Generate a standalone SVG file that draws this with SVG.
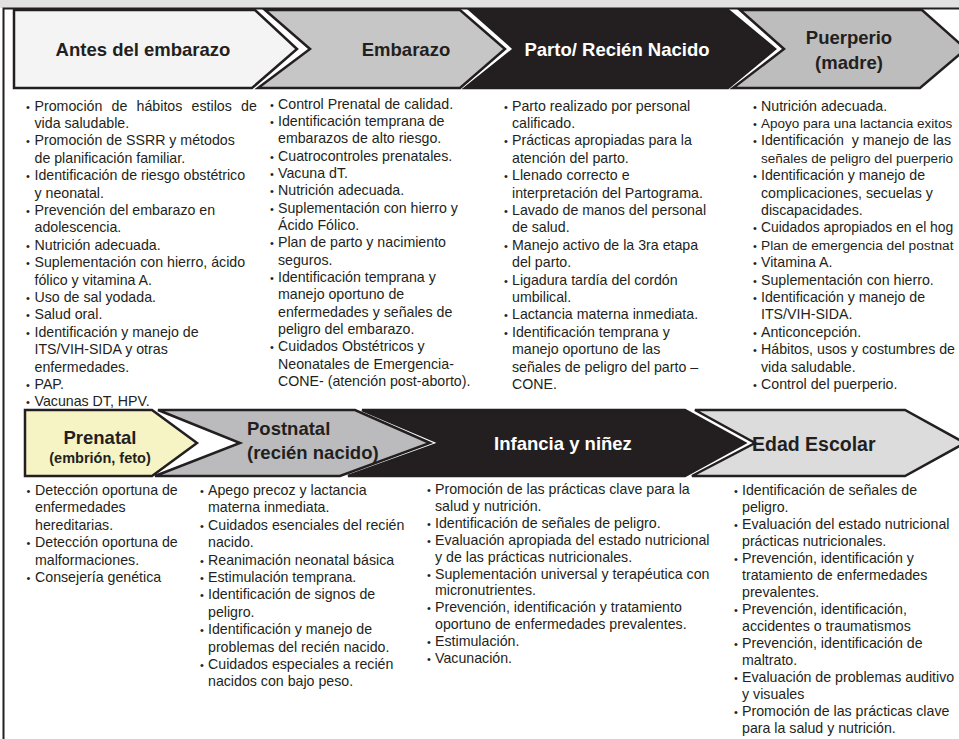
<svg xmlns="http://www.w3.org/2000/svg" width="959" height="739" viewBox="0 0 959 739">
<style>
.hd{font-family:"Liberation Sans",Arial,sans-serif;font-weight:bold;font-size:18.5px;fill:#231f20;text-anchor:middle}
.hdw{fill:#ffffff}
.sm{font-size:14.5px}
.tx{font-family:"Liberation Sans",Arial,sans-serif;font-size:14.2px;fill:#231f20}
.bu{font-size:11px}
.ch{stroke:#231f20;stroke-width:2.5;stroke-linejoin:miter}
</style>
<rect x="0" y="0" width="959" height="739" fill="#ffffff"/>
<rect x="0" y="0" width="959" height="8" fill="#e1e1e1"/>
<path d="M3.5,739 V8.5 H959" fill="none" stroke="#231f20" stroke-width="2"/>
<g id="connectors"></g>

<g id="antes-del-embarazo">
<polygon class="ch" fill="#f4f4f4" points="14,10 255,10 297,49 252,88 14,88"/>
<text class="hd" x="143" y="55.5">Antes del embarazo</text>
<text class="tx">
<tspan class="bu" x="26" y="110.5">•</tspan><tspan x="34.5" y="110.5" word-spacing="5.3">Promoción de hábitos estilos de</tspan>
<tspan x="34.5" y="127.9">vida saludable.</tspan>
<tspan class="bu" x="26" y="145.3">•</tspan><tspan x="34.5" y="145.3">Promoción de SSRR y métodos</tspan>
<tspan x="34.5" y="162.7">de planificación familiar.</tspan>
<tspan class="bu" x="26" y="180.1">•</tspan><tspan x="34.5" y="180.1">Identificación de riesgo obstétrico</tspan>
<tspan x="34.5" y="197.5">y neonatal.</tspan>
<tspan class="bu" x="26" y="214.9">•</tspan><tspan x="34.5" y="214.9">Prevención del embarazo en</tspan>
<tspan x="34.5" y="232.3">adolescencia.</tspan>
<tspan class="bu" x="26" y="249.7">•</tspan><tspan x="34.5" y="249.7">Nutrición adecuada.</tspan>
<tspan class="bu" x="26" y="267.1">•</tspan><tspan x="34.5" y="267.1">Suplementación con hierro, ácido</tspan>
<tspan x="34.5" y="284.5">fólico y vitamina A.</tspan>
<tspan class="bu" x="26" y="301.9">•</tspan><tspan x="34.5" y="301.9">Uso de sal yodada.</tspan>
<tspan class="bu" x="26" y="319.3">•</tspan><tspan x="34.5" y="319.3">Salud oral.</tspan>
<tspan class="bu" x="26" y="336.7">•</tspan><tspan x="34.5" y="336.7">Identificación y manejo de</tspan>
<tspan x="34.5" y="354.1">ITS/VIH-SIDA y otras</tspan>
<tspan x="34.5" y="371.5">enfermedades.</tspan>
<tspan class="bu" x="26" y="388.9">•</tspan><tspan x="34.5" y="388.9">PAP.</tspan>
<tspan class="bu" x="26" y="406.3">•</tspan><tspan x="34.5" y="406.3">Vacunas DT, HPV.</tspan>
</text>
</g>

<g id="embarazo">
<polygon class="ch" fill="#c6c6c6" points="265,10 460,10 505,49 460,88 258,88 310,49"/>
<text class="hd" x="406" y="55.5">Embarazo</text>
<text class="tx">
<tspan class="bu" x="270" y="108.5">•</tspan><tspan x="278" y="108.5">Control Prenatal de calidad.</tspan>
<tspan class="bu" x="270" y="125.85">•</tspan><tspan x="278" y="125.85">Identificación temprana de</tspan>
<tspan x="278" y="143.2">embarazos de alto riesgo.</tspan>
<tspan class="bu" x="270" y="160.55">•</tspan><tspan x="278" y="160.55">Cuatrocontroles prenatales.</tspan>
<tspan class="bu" x="270" y="177.9">•</tspan><tspan x="278" y="177.9">Vacuna dT.</tspan>
<tspan class="bu" x="270" y="195.25">•</tspan><tspan x="278" y="195.25">Nutrición adecuada.</tspan>
<tspan class="bu" x="270" y="212.6">•</tspan><tspan x="278" y="212.6">Suplementación con hierro y</tspan>
<tspan x="278" y="229.95">Ácido Fólico.</tspan>
<tspan class="bu" x="270" y="247.3">•</tspan><tspan x="278" y="247.3">Plan de parto y nacimiento</tspan>
<tspan x="278" y="264.65">seguros.</tspan>
<tspan class="bu" x="270" y="282">•</tspan><tspan x="278" y="282">Identificación temprana y</tspan>
<tspan x="278" y="299.35">manejo oportuno de</tspan>
<tspan x="278" y="316.7">enfermedades y señales de</tspan>
<tspan x="278" y="334.05">peligro del embarazo.</tspan>
<tspan class="bu" x="270" y="351.4">•</tspan><tspan x="278" y="351.4">Cuidados Obstétricos y</tspan>
<tspan x="278" y="368.75">Neonatales de Emergencia-</tspan>
<tspan x="278" y="386.1">CONE- (atención post-aborto).</tspan>
</text>
</g>

<g id="parto-recien-nacido">
<polygon class="ch" fill="#231f20" points="470,10 728,10 775,49 728,88 465,88 514,49"/>
<text class="hd hdw" x="617" y="55.5">Parto/ Recién Nacido</text>
<text class="tx">
<tspan class="bu" x="504" y="110.5">•</tspan><tspan x="512" y="110.5">Parto realizado por personal</tspan>
<tspan x="512" y="127.9">calificado.</tspan>
<tspan class="bu" x="504" y="145.3">•</tspan><tspan x="512" y="145.3">Prácticas apropiadas para la</tspan>
<tspan x="512" y="162.7">atención del parto.</tspan>
<tspan class="bu" x="504" y="180.1">•</tspan><tspan x="512" y="180.1">Llenado correcto e</tspan>
<tspan x="512" y="197.5">interpretación del Partograma.</tspan>
<tspan class="bu" x="504" y="214.9">•</tspan><tspan x="512" y="214.9">Lavado de manos del personal</tspan>
<tspan x="512" y="232.3">de salud.</tspan>
<tspan class="bu" x="504" y="249.7">•</tspan><tspan x="512" y="249.7">Manejo activo de la 3ra etapa</tspan>
<tspan x="512" y="267.1">del parto.</tspan>
<tspan class="bu" x="504" y="284.5">•</tspan><tspan x="512" y="284.5">Ligadura tardía del cordón</tspan>
<tspan x="512" y="301.9">umbilical.</tspan>
<tspan class="bu" x="504" y="319.3">•</tspan><tspan x="512" y="319.3">Lactancia materna inmediata.</tspan>
<tspan class="bu" x="504" y="336.7">•</tspan><tspan x="512" y="336.7">Identificación temprana y</tspan>
<tspan x="512" y="354.1">manejo oportuno de las</tspan>
<tspan x="512" y="371.5">señales de peligro del parto –</tspan>
<tspan x="512" y="388.9">CONE.</tspan>
</text>
</g>

<g id="puerperio">
<polygon class="ch" fill="#bdbdbd" points="740,10 922,10 966,49 920,88 733,88 784,49"/>
<text class="hd" x="849" y="44">Puerperio</text>
<text class="hd" x="849" y="68.5">(madre)</text>
<text class="tx">
<tspan class="bu" x="753" y="110.5">•</tspan><tspan x="761" y="110.5">Nutrición adecuada.</tspan>
<tspan class="bu" x="753" y="127.9">•</tspan><tspan x="761" y="127.9" style="font-size:13.5px">Apoyo para una lactancia exitos</tspan>
<tspan class="bu" x="753" y="145.3">•</tspan><tspan x="761" y="145.3">Identificación&#160; y manejo de las</tspan>
<tspan x="761" y="162.7" style="font-size:13.5px">señales de peligro del puerperio</tspan>
<tspan class="bu" x="753" y="180.1">•</tspan><tspan x="761" y="180.1">Identificación y manejo de</tspan>
<tspan x="761" y="197.5">complicaciones, secuelas y</tspan>
<tspan x="761" y="214.9">discapacidades.</tspan>
<tspan class="bu" x="753" y="232.3">•</tspan><tspan x="761" y="232.3" style="font-size:13.9px">Cuidados apropiados en el hog</tspan>
<tspan class="bu" x="753" y="249.7">•</tspan><tspan x="761" y="249.7" style="font-size:13.7px">Plan de emergencia del postnat</tspan>
<tspan class="bu" x="753" y="267.1">•</tspan><tspan x="761" y="267.1">Vitamina A.</tspan>
<tspan class="bu" x="753" y="284.5">•</tspan><tspan x="761" y="284.5">Suplementación con hierro.</tspan>
<tspan class="bu" x="753" y="301.9">•</tspan><tspan x="761" y="301.9">Identificación y manejo de</tspan>
<tspan x="761" y="319.3">ITS/VIH-SIDA.</tspan>
<tspan class="bu" x="753" y="336.7">•</tspan><tspan x="761" y="336.7">Anticoncepción.</tspan>
<tspan class="bu" x="753" y="354.1">•</tspan><tspan x="761" y="354.1">Hábitos, usos y costumbres de</tspan>
<tspan x="761" y="371.5">vida saludable.</tspan>
<tspan class="bu" x="753" y="388.9">•</tspan><tspan x="761" y="388.9">Control del puerperio.</tspan>
</text>
</g>

<g id="prenatal">
<polygon class="ch" fill="#f6f4c4" points="25,410 152,410 197,443 152,476 25,476"/>
<text class="hd" x="100" y="444">Prenatal</text>
<text class="hd sm" x="100" y="463">(embrión, feto)</text>
<text class="tx">
<tspan class="bu" x="26.5" y="495">•</tspan><tspan x="35" y="495">Detección oportuna de</tspan>
<tspan x="35" y="512.4">enfermedades</tspan>
<tspan x="35" y="529.8">hereditarias.</tspan>
<tspan class="bu" x="26.5" y="547.2">•</tspan><tspan x="35" y="547.2">Detección oportuna de</tspan>
<tspan x="35" y="564.6">malformaciones.</tspan>
<tspan class="bu" x="26.5" y="582">•</tspan><tspan x="35" y="582">Consejería genética</tspan>
</text>
</g>

<g id="postnatal">
<polygon class="ch" fill="#bbbbbd" points="158,410 355,410 430,443 340,476 155,476 240,443"/>
<text class="hd" x="247" y="435" style="text-anchor:start">Postnatal</text>
<text class="hd" x="247" y="459" style="text-anchor:start">(recién nacido)</text>
<text class="tx">
<tspan class="bu" x="200" y="495">•</tspan><tspan x="208" y="495">Apego precoz y lactancia</tspan>
<tspan x="208" y="512.4">materna inmediata.</tspan>
<tspan class="bu" x="200" y="529.8">•</tspan><tspan x="208" y="529.8">Cuidados esenciales del recién</tspan>
<tspan x="208" y="547.2">nacido.</tspan>
<tspan class="bu" x="200" y="564.6">•</tspan><tspan x="208" y="564.6">Reanimación neonatal básica</tspan>
<tspan class="bu" x="200" y="582">•</tspan><tspan x="208" y="582">Estimulación temprana.</tspan>
<tspan class="bu" x="200" y="599.4">•</tspan><tspan x="208" y="599.4">Identificación de signos de</tspan>
<tspan x="208" y="616.8">peligro.</tspan>
<tspan class="bu" x="200" y="634.2">•</tspan><tspan x="208" y="634.2">Identificación y manejo de</tspan>
<tspan x="208" y="651.6">problemas del recién nacido.</tspan>
<tspan class="bu" x="200" y="669">•</tspan><tspan x="208" y="669">Cuidados especiales a recién</tspan>
<tspan x="208" y="686.4">nacidos con bajo peso.</tspan>
</text>
</g>

<g id="infancia-ninez">
<polygon class="ch" fill="#231f20" points="362,410 685,410 745,443 685,476 348,476 440,443"/>
<text class="hd hdw" x="563" y="450">Infancia y niñez</text>
<text class="tx">
<tspan class="bu" x="427" y="494">•</tspan><tspan x="435" y="494">Promoción de las prácticas clave para la</tspan>
<tspan x="435" y="510.9">salud y nutrición.</tspan>
<tspan class="bu" x="427" y="527.8">•</tspan><tspan x="435" y="527.8">Identificación de señales de peligro.</tspan>
<tspan class="bu" x="427" y="544.7">•</tspan><tspan x="435" y="544.7">Evaluación apropiada del estado nutricional</tspan>
<tspan x="435" y="561.6">y de las prácticas nutricionales.</tspan>
<tspan class="bu" x="427" y="578.5">•</tspan><tspan x="435" y="578.5">Suplementación universal y terapéutica con</tspan>
<tspan x="435" y="595.4">micronutrientes.</tspan>
<tspan class="bu" x="427" y="612.3">•</tspan><tspan x="435" y="612.3">Prevención, identificación y tratamiento</tspan>
<tspan x="435" y="629.2">oportuno de enfermedades prevalentes.</tspan>
<tspan class="bu" x="427" y="646.1">•</tspan><tspan x="435" y="646.1">Estimulación.</tspan>
<tspan class="bu" x="427" y="663">•</tspan><tspan x="435" y="663">Vacunación.</tspan>
</text>
</g>

<g id="edad-escolar">
<polygon class="ch" fill="#dcdcdc" points="695,410 905,410 965,443 905,476 692,476 755,443"/>
<text class="hd" x="752" y="450.5" style="text-anchor:start;font-size:19.5px">Edad Escolar</text>
<text class="tx">
<tspan class="bu" x="734" y="495">•</tspan><tspan x="742" y="495">Identificación de señales de</tspan>
<tspan x="742" y="512">peligro.</tspan>
<tspan class="bu" x="734" y="529">•</tspan><tspan x="742" y="529">Evaluación del estado nutricional</tspan>
<tspan x="742" y="546">prácticas nutricionales.</tspan>
<tspan class="bu" x="734" y="563">•</tspan><tspan x="742" y="563">Prevención, identificación y</tspan>
<tspan x="742" y="580">tratamiento de enfermedades</tspan>
<tspan x="742" y="597">prevalentes.</tspan>
<tspan class="bu" x="734" y="614">•</tspan><tspan x="742" y="614">Prevención, identificación,</tspan>
<tspan x="742" y="631">accidentes o traumatismos</tspan>
<tspan class="bu" x="734" y="648">•</tspan><tspan x="742" y="648">Prevención, identificación de</tspan>
<tspan x="742" y="665">maltrato.</tspan>
<tspan class="bu" x="734" y="682">•</tspan><tspan x="742" y="682">Evaluación de problemas auditivo</tspan>
<tspan x="742" y="699">y visuales</tspan>
<tspan class="bu" x="734" y="716">•</tspan><tspan x="742" y="716">Promoción de las prácticas clave</tspan>
<tspan x="742" y="733">para la salud y nutrición.</tspan>
</text>
</g>
</svg>
